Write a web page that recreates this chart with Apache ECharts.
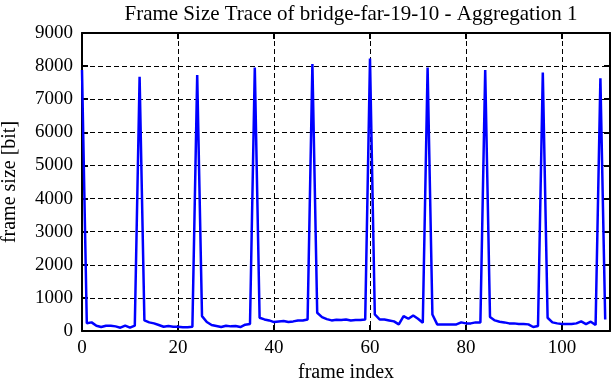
<!DOCTYPE html>
<html>
<head>
<meta charset="utf-8">
<script src="https://cdn.jsdelivr.net/npm/echarts@6/dist/echarts.min.js"></script>
<style>
html,body{margin:0;padding:0;background:#fff;}
#chart{width:612px;height:382px;}
</style>
</head>
<body>
<div id="chart"></div>
<script>
var titleText = "Frame Size Trace of bridge-far-19-10 - Aggregation 1";
var xAxisName = "frame index";
var yAxisName = "frame size [bit]";

var frameSizes = [
  7880, 235, 260, 160, 120, 160, 160, 140, 100, 160, 100, 160,
  7680, 320, 260, 230, 180, 130, 150, 130, 130, 110, 110, 130,
  7730, 450, 270, 180, 150, 120, 160, 140, 150, 120, 190, 210,
  7960, 400, 350, 320, 270, 290, 300, 270, 290, 320, 320, 350,
  8060, 550, 420, 360, 320, 340, 330, 350, 320, 330, 330, 350,
  8230, 500, 350, 350, 320, 290, 200, 450, 370, 470, 370, 250,
  7960, 500, 200, 200, 200, 200, 200, 260, 230, 230, 260, 260,
  7880, 420, 320, 280, 260, 230, 230, 210, 210, 200, 120, 150,
  7810, 400, 260, 230, 210, 210, 210, 230, 290, 210, 280, 180,
  7630, 350
];
var frameIndex = frameSizes.map(function (v, i) { return i; });

var xTicks = [0, 20, 40, 60, 80, 100];
var yTicks = [0, 1000, 2000, 3000, 4000, 5000, 6000, 7000, 8000, 9000];

var seriesData = frameIndex.map(function (x, i) { return [x, frameSizes[i]]; });

var FONT = "'Liberation Serif', serif";
function axisCommon(pos, isX, showLabels) {
  return {
    type: 'value',
    position: pos,
    min: isX ? xTicks[0] : yTicks[0],
    max: isX ? 110 : yTicks[yTicks.length - 1],
    interval: isX ? xTicks[1] - xTicks[0] : yTicks[1] - yTicks[0],
    axisLine: { show: true, onZero: false, lineStyle: { color: '#000', width: 2 } },
    axisTick: { show: true, inside: true, length: 6, lineStyle: { color: '#000', width: 2 } },
    axisLabel: {
      show: showLabels,
      color: '#000',
      fontFamily: FONT,
      fontSize: 19,
      margin: isX ? 8 : 9,
      showMaxLabel: isX ? false : true,
      showMinLabel: true,
      formatter: function (v) { return String(v); }
    },
    splitLine: {
      show: showLabels,
      lineStyle: { color: '#000', width: 1, type: [5, 3] }
    }
  };
}

var xBottom = axisCommon('bottom', true, true);
xBottom.name = xAxisName;
xBottom.nameLocation = 'middle';
xBottom.nameGap = 31;
xBottom.nameTextStyle = { fontFamily: FONT, fontSize: 20, color: '#000', verticalAlign: 'top' };
var xTop = axisCommon('top', true, false);

var yLeft = axisCommon('left', false, true);
yLeft.name = yAxisName;
yLeft.nameLocation = 'middle';
yLeft.nameGap = 62;
yLeft.nameRotate = 90;
yLeft.nameTextStyle = { fontFamily: FONT, fontSize: 20, color: '#000' };
var yRight = axisCommon('right', false, false);

var chart = echarts.init(document.getElementById('chart'), null, { renderer: 'canvas' });
chart.setOption({
  backgroundColor: '#fff',
  animation: false,
  title: {
    text: titleText,
    left: 346,
    textAlign: 'center',
    top: -1,
    textStyle: { fontFamily: FONT, fontSize: 21, fontWeight: 'normal', color: '#000' }
  },
  grid: { left: 82, right: 2, top: 33, bottom: 51, containLabel: false, outerBoundsMode: 'none' },
  xAxis: [xBottom, xTop],
  yAxis: [yLeft, yRight],
  series: [{
    type: 'line',
    xAxisIndex: 0,
    yAxisIndex: 0,
    data: seriesData,
    showSymbol: false,
    symbol: 'none',
    lineStyle: { color: '#0000ff', width: 2.5 },
    clip: true
  }]
});
</script>
</body>
</html>
